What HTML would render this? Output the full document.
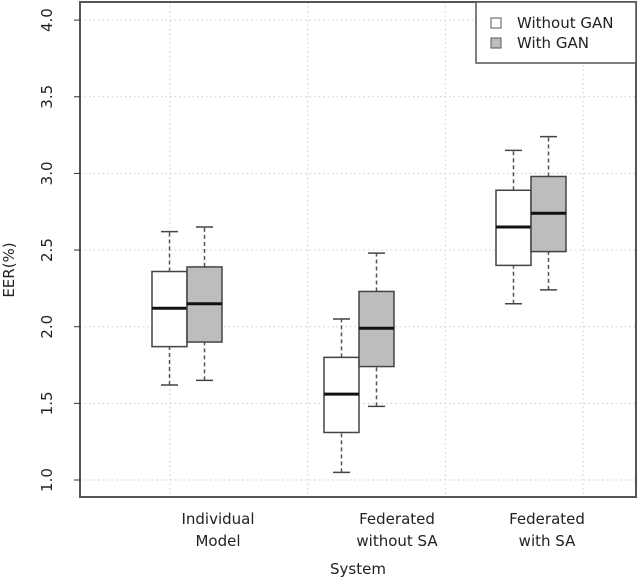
<!DOCTYPE html>
<html><head><meta charset="utf-8"><style>
body{margin:0;background:#fff;}
svg text{font-family:"DejaVu Sans","Liberation Sans",sans-serif;fill:#222;}
</style></head><body>
<svg width="640" height="579" viewBox="0 0 640 579" xmlns="http://www.w3.org/2000/svg">
<g id="grid"></g>
<g id="boxes"></g>
<rect x="80" y="2" width="556" height="495" fill="none" stroke="#555" stroke-width="2"/>
<g id="yaxis"></g>
<text x="14" y="270" font-size="15" text-anchor="middle" transform="rotate(-90 14 270)">EER(%)</text>
<g id="xlabels"></g>
<text x="358" y="574" font-size="15" text-anchor="middle">System</text>
<g>
<rect x="476" y="2" width="160" height="61" fill="#fff" stroke="#555" stroke-width="1.5"/>
<rect x="491" y="18" width="10" height="10" fill="#fff" stroke="#555"/>
<text x="517" y="28" font-size="15">Without GAN</text>
<rect x="491" y="38" width="10" height="10" fill="#bdbdbd" stroke="#555"/>
<text x="517" y="48" font-size="15">With GAN</text>
</g>
<script>
const categories = [["Individual","Model"],["Federated","without SA"],["Federated","with SA"]];
const series = ["Without GAN","With GAN"];
const whiskerLow  = [[1.62,1.65],[1.05,1.48],[2.15,2.24]];
const q1          = [[1.87,1.90],[1.31,1.74],[2.40,2.49]];
const median      = [[2.12,2.15],[1.56,1.99],[2.65,2.74]];
const q3          = [[2.36,2.39],[1.80,2.23],[2.89,2.98]];
const whiskerHigh = [[2.62,2.65],[2.05,2.48],[3.15,3.24]];
const yTicks = [1.0,1.5,2.0,2.5,3.0,3.5,4.0];
const yTickLabels = ["1.0","1.5","2.0","2.5","3.0","3.5","4.0"];
const xGrid = [0.5,1.5,2.5,3.5];

const NS="http://www.w3.org/2000/svg";
function y(v){return 480-(v-1)*153.3;}
function gx(i){return 187+i*172;}      // group center
function gridX(u){return 170+(u-0.5)*137.7;}
function mk(tag,attrs,parent){const e=document.createElementNS(NS,tag);for(const k in attrs)e.setAttribute(k,attrs[k]);parent.appendChild(e);return e;}
const grid=document.getElementById('grid'),boxes=document.getElementById('boxes'),yaxis=document.getElementById('yaxis'),xl=document.getElementById('xlabels');
yTicks.forEach((t,i)=>{
  const l=mk('line',{x1:80,x2:636,y1:y(t),y2:y(t),stroke:'#ccc','stroke-dasharray':'1.5,3'},grid);
  
  
  const tk=mk('line',{x1:74,x2:80,y1:y(t),y2:y(t),stroke:'#333'},yaxis);
  
  
  const tx=mk('text',{x:52,y:y(t),'font-size':15,'text-anchor':'middle',transform:`rotate(-90 52 ${y(t)})`},yaxis);
  tx.textContent=yTickLabels[i];
  
  
});
xGrid.forEach(u=>{
  const l=mk('line',{x1:gridX(u),x2:gridX(u),y1:2,y2:497,stroke:'#ccc','stroke-dasharray':'1.5,3'},grid);
  
  
});
const lx=[218,397,547];
categories.forEach((c,i)=>{
  c.forEach((s,j)=>{
    const t=mk('text',{x:lx[i],y:524+j*22,'font-size':15,'text-anchor':'middle'},xl);
    t.textContent=s;
    
    
  });
  series.forEach((s,k)=>{
    const cx=gx(i)+(k===0?-17.5:17.5),w=35,fill=k===0?'#fff':'#bdbdbd';
    const g=mk('g',{},boxes);
    
    
    mk('line',{x1:cx,x2:cx,y1:y(whiskerLow[i][k]),y2:y(q1[i][k]),stroke:'#555','stroke-width':1.5,'stroke-dasharray':'4,3'},g);
    mk('line',{x1:cx,x2:cx,y1:y(q3[i][k]),y2:y(whiskerHigh[i][k]),stroke:'#555','stroke-width':1.5,'stroke-dasharray':'4,3'},g);
    mk('line',{x1:cx-8.5,x2:cx+8.5,y1:y(whiskerLow[i][k]),y2:y(whiskerLow[i][k]),stroke:'#444','stroke-width':1.5},g);
    mk('line',{x1:cx-8.5,x2:cx+8.5,y1:y(whiskerHigh[i][k]),y2:y(whiskerHigh[i][k]),stroke:'#444','stroke-width':1.5},g);
    mk('rect',{x:cx-w/2,y:y(q3[i][k]),width:w,height:y(q1[i][k])-y(q3[i][k]),fill:fill,stroke:'#444','stroke-width':1.5},g);
    mk('line',{x1:cx-w/2,x2:cx+w/2,y1:y(median[i][k]),y2:y(median[i][k]),stroke:'#111','stroke-width':3},g);
  });
});
</script>
</svg>
</body></html>
